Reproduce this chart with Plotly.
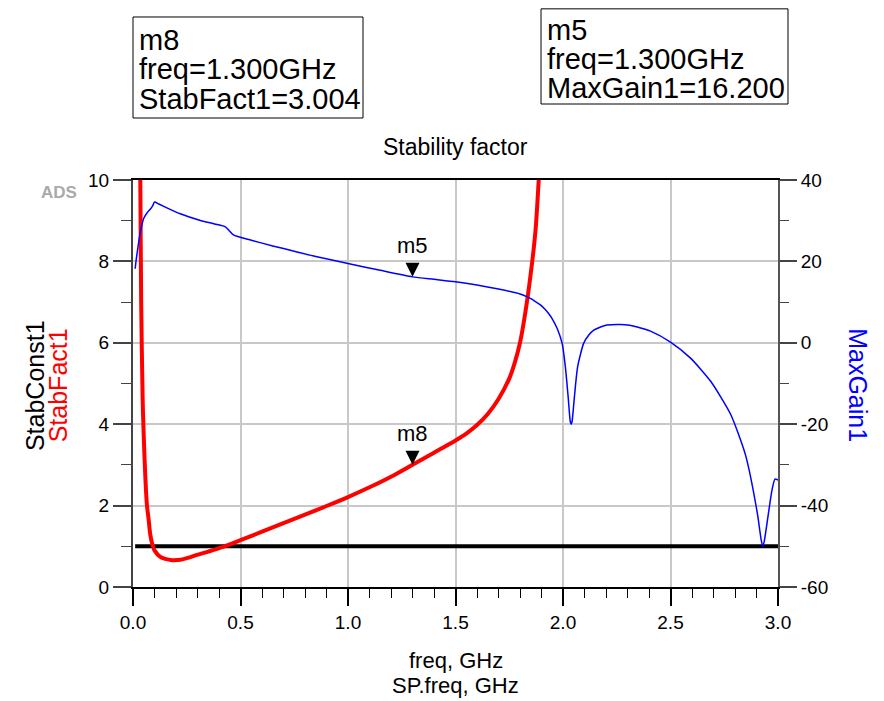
import plotly.graph_objects as go

# ---------------- data ----------------
stabfact_freq = [0.030, 0.034, 0.038, 0.045, 0.050, 0.058, 0.065, 0.073, 0.080, 0.089,
                 0.100, 0.127, 0.150, 0.182, 0.220, 0.250, 0.298, 0.350, 0.422, 0.500,
                 0.600, 0.700, 0.800, 0.900, 1.000, 1.100, 1.200, 1.300, 1.400, 1.500,
                 1.550, 1.600, 1.650, 1.700, 1.750, 1.775, 1.800, 1.825, 1.850, 1.872,
                 1.887, 1.900]
stabfact_vals = [12.5, 10.0, 7.0, 4.6, 3.7, 2.63, 2.0, 1.65, 1.3, 1.07,
                 0.90, 0.74, 0.69, 0.66, 0.67, 0.71, 0.79, 0.87, 0.99, 1.15,
                 1.36, 1.57, 1.78, 1.99, 2.21, 2.45, 2.71, 3.004, 3.30, 3.60,
                 3.77, 3.98, 4.25, 4.62, 5.12, 5.50, 6.00, 6.75, 7.70, 8.75,
                 10.0, 11.3]

stabconst_freq = [0.01, 3.0]
stabconst_vals = [1.0, 1.0]

maxgain_freq = [0.010, 0.015, 0.019, 0.025, 0.030, 0.038, 0.050, 0.065, 0.080, 0.092,
                0.100, 0.120, 0.160, 0.220, 0.310, 0.380, 0.430, 0.445, 0.467, 0.550,
                0.650, 0.750, 0.850, 1.000, 1.150, 1.300, 1.400, 1.500, 1.600, 1.700,
                1.800, 1.833, 1.848, 1.870, 1.895, 1.915, 1.933, 1.950, 1.973, 1.996,
                2.011, 2.024, 2.034, 2.038, 2.042, 2.053, 2.068, 2.096, 2.120, 2.143,
                2.175, 2.205, 2.267, 2.310, 2.345, 2.407, 2.500, 2.593, 2.686, 2.779,
                2.849, 2.904, 2.922, 2.929, 2.936, 2.949, 2.972, 2.986, 3.000]
maxgain_vals = [18.2, 20.5, 22.0, 24.2, 26.0, 28.2, 30.6, 31.9, 32.8, 33.7,
                34.6, 34.1, 33.1, 31.7, 30.1, 29.2, 28.5, 27.7, 26.5, 25.2,
                23.8, 22.5, 21.2, 19.5, 17.8, 16.2, 15.6, 15.0, 14.2, 13.2,
                12.0, 11.3, 10.9, 10.2, 9.3, 8.3, 7.2, 5.9, 3.5, -0.15,
                -5.9, -13.3, -19.4, -20.0, -19.4, -13.3, -5.9, -0.15, 1.9, 3.1,
                3.9, 4.35, 4.5, 4.3, 3.9, 2.87, 0.17, -3.76, -9.4, -17.5,
                -27.6, -41.9, -48.5, -50.0, -48.8, -44.3, -36.2, -33.5, -33.7]

marker_freq = 1.3
m8_value = 3.004
m5_value = 16.200

x_ticks = [0.0, 0.5, 1.0, 1.5, 2.0, 2.5, 3.0]
x_ticklabels = ["0.0", "0.5", "1.0", "1.5", "2.0", "2.5", "3.0"]
left_ticks = [0, 2, 4, 6, 8, 10]
right_ticks = [-60, -40, -20, 0, 20, 40]
right_ticklabels = ["-60", "-40", "-20", "0", "20", "40"]

m8_lines = ["m8", f"freq={marker_freq:.3f}GHz", f"StabFact1={m8_value:.3f}"]
m5_lines = ["m5", f"freq={marker_freq:.3f}GHz", f"MaxGain1={m5_value:.3f}"]
x_title_lines = ["freq, GHz", "SP.freq, GHz"]

FONT = "Liberation Sans, Arial, sans-serif"

fig = go.Figure()

fig.add_trace(go.Scatter(x=stabconst_freq, y=stabconst_vals, mode="lines",
                         line=dict(color="black", width=4), yaxis="y", showlegend=False))
fig.add_trace(go.Scatter(x=stabfact_freq, y=stabfact_vals, mode="lines",
                         line=dict(color="#ff0000", width=4, shape="spline", smoothing=0.8),
                         yaxis="y", showlegend=False))
fig.add_trace(go.Scatter(x=maxgain_freq, y=maxgain_vals, mode="lines",
                         line=dict(color="#0000ff", width=1.5, shape="spline", smoothing=0.6),
                         yaxis="y2", showlegend=False))

# marker triangles (tip on the curve)
fig.add_trace(go.Scatter(x=[marker_freq], y=[m8_value], mode="markers",
                         marker=dict(symbol="arrow-down", size=14, color="black"),
                         yaxis="y", showlegend=False))
fig.add_trace(go.Scatter(x=[marker_freq], y=[m5_value], mode="markers",
                         marker=dict(symbol="arrow-down", size=14, color="black"),
                         yaxis="y2", showlegend=False))

annotations = [
    dict(x=marker_freq, y=m8_value, xref="x", yref="y", text="m8", showarrow=False,
         xanchor="center", yanchor="middle", yshift=31,
         font=dict(size=22, color="black", family=FONT)),
    dict(x=marker_freq, y=m5_value, xref="x", yref="y2", text="m5", showarrow=False,
         xanchor="center", yanchor="middle", yshift=31,
         font=dict(size=22, color="black", family=FONT)),
    dict(x=0.5, y=1.081, xref="paper", yref="paper", text="Stability factor",
         xanchor="center", yanchor="middle", showarrow=False,
         font=dict(size=23, color="black", family=FONT)),
    dict(x=-0.152, y=0.496, xref="paper", yref="paper", text="StabConst1",
         xanchor="center", yanchor="middle", textangle=-90, showarrow=False,
         font=dict(size=25, color="black", family=FONT)),
    dict(x=-0.116, y=0.496, xref="paper", yref="paper", text="StabFact1",
         xanchor="center", yanchor="middle", textangle=-90, showarrow=False,
         font=dict(size=25, color="#ff0000", family=FONT)),
    dict(x=1.124, y=0.496, xref="paper", yref="paper", text="MaxGain1",
         xanchor="center", yanchor="middle", textangle=90, showarrow=False,
         font=dict(size=25, color="#0000ff", family=FONT)),
    dict(x=-0.115, y=0.9705, xref="paper", yref="paper", text="<b>ADS</b>",
         xanchor="center", yanchor="middle", showarrow=False,
         font=dict(size=17, color="#aaaaaa", family=FONT)),
]

x_title_ys = [-0.1806, -0.2420]
for t, yy in zip(x_title_lines, x_title_ys):
    annotations.append(dict(x=0.5, y=yy, xref="paper", yref="paper", text=t,
                            xanchor="center", yanchor="middle", showarrow=False,
                            font=dict(size=22, color="black", family=FONT)))

m8_ys = [1.344, 1.2727, 1.199]
for t, yy in zip(m8_lines, m8_ys):
    annotations.append(dict(x=0.0062, y=yy, xref="paper", yref="paper", xanchor="left",
                            yanchor="middle", text=t, showarrow=False,
                            font=dict(size=29, color="black", family=FONT)))
m5_ys = [1.3686, 1.2973, 1.226]
for t, yy in zip(m5_lines, m5_ys):
    annotations.append(dict(x=0.6388, y=yy, xref="paper", yref="paper", xanchor="left",
                            yanchor="middle", text=t, showarrow=False,
                            font=dict(size=29, color="black", family=FONT)))

shapes = [
    dict(type="rect", xref="paper", yref="paper", x0=0.0, x1=0.3566, y0=1.1523, y1=1.4005,
         line=dict(color="black", width=1)),
    dict(type="rect", xref="paper", yref="paper", x0=0.6326, x1=1.0155, y0=1.1867, y1=1.4205,
         line=dict(color="black", width=1)),
]

fig.update_layout(
    width=876, height=693,
    margin=dict(l=125, r=106, t=172, b=114),
    paper_bgcolor="white", plot_bgcolor="white",
    font=dict(family=FONT, size=19, color="black"),
    showlegend=False,
    annotations=annotations,
    shapes=shapes,
    xaxis=dict(
        range=[0, 3], tickvals=x_ticks, ticktext=x_ticklabels,
        ticks="outside", ticklen=17, tickwidth=1.5, tickcolor="black",
        showline=True, linecolor="black", linewidth=2, mirror=True,
        showgrid=True, gridcolor="#c8c8c8", gridwidth=1.5, zeroline=False,
        minor=dict(dtick=0.1, ticks="outside", ticklen=9, tickcolor="black", tickwidth=1,
                   showgrid=False),
        tickfont=dict(size=19, color="black"),
    ),
    yaxis=dict(
        range=[0, 10], tickvals=left_ticks, ticks="outside", ticklen=18, tickwidth=1.5,
        tickcolor="#444", showline=True, linecolor="#444", linewidth=2,
        showgrid=True, gridcolor="#c8c8c8", gridwidth=1.5, zeroline=False,
        minor=dict(dtick=1, ticks="outside", ticklen=10, tickcolor="#444", tickwidth=1,
                   showgrid=False),
        tickfont=dict(size=19, color="black"),
    ),
    yaxis2=dict(
        range=[-60, 40], tickvals=right_ticks, ticktext=right_ticklabels,
        overlaying="y", side="right",
        ticks="outside", ticklen=17, tickwidth=1.5, tickcolor="#444",
        showline=True, linecolor="#555", linewidth=2, showgrid=False, zeroline=False,
        minor=dict(dtick=10, ticks="outside", ticklen=9, tickcolor="#444", tickwidth=1,
                   showgrid=False),
        tickfont=dict(size=19, color="black"),
    ),
)

fig.write_html("out.html")
